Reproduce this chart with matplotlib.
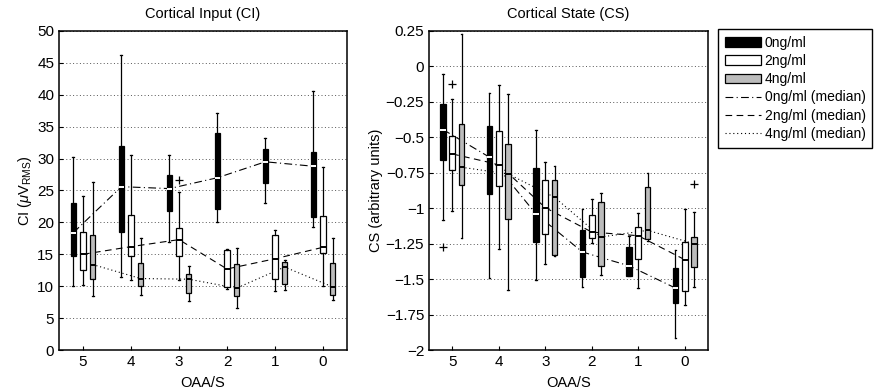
import numpy as np
import matplotlib.pyplot as plt
from matplotlib.patches import Patch
from matplotlib.lines import Line2D
from matplotlib.ticker import FuncFormatter

plt.rcParams['font.family'] = ['Liberation Sans', 'DejaVu Sans']
plt.rcParams['mathtext.fontset'] = 'custom'
plt.rcParams['mathtext.rm'] = 'Liberation Sans'
plt.rcParams['mathtext.it'] = 'Liberation Sans:italic'
plt.rcParams['font.size'] = 10

# OAA/S levels, left to right
levels = ['5', '4', '3', '2', '1', '0']
conc = ['0ng/ml', '2ng/ml', '4ng/ml']

# Cortical Input (CI), per concentration: whisker low, q1, median, q3, whisker high
ci_lo = [[10.0, 11.5, 17.0, 20.0, 23.1, 19.3],
         [10.2, 11.0, 11.0, 9.5, 9.2, 10.0],
         [8.4, 8.6, 7.7, 6.6, 9.4, 7.8]]
ci_q1 = [[14.7, 18.5, 21.8, 22.1, 26.1, 20.9],
         [12.5, 14.7, 14.7, 9.8, 11.1, 15.2],
         [11.1, 10.0, 9.0, 8.4, 10.3, 8.6]]
ci_med = [[18.4, 25.6, 25.3, 27.0, 29.5, 28.8],
          [15.0, 16.2, 17.3, 12.7, 14.3, 16.1],
          [13.4, 11.2, 11.1, 9.7, 13.0, 9.9]]
ci_q3 = [[23.1, 31.9, 27.4, 34.0, 31.5, 31.1],
         [18.5, 21.2, 19.2, 15.6, 18.1, 21.0],
         [18.1, 13.7, 11.9, 13.5, 13.8, 13.7]]
ci_hi = [[30.3, 46.3, 30.5, 37.1, 33.2, 40.6],
         [24.2, 30.5, 24.8, 15.9, 18.8, 28.7],
         [26.3, 17.5, 13.2, 16.0, 14.1, 17.5]]
ci_fliers = [[[], [], [], [], [], []],
             [[], [], [26.6], [], [], []],
             [[], [], [], [], [], []]]

# Cortical State (CS)
cs_lo = [[-1.081, -1.493, -1.505, -1.556, -1.48, -1.917],
         [-1.022, -1.286, -1.392, -1.245, -1.563, -1.681],
         [-1.21, -1.575, -1.34, -1.469, -1.23, -1.559]]
cs_q1 = [[-0.662, -0.897, -1.238, -1.486, -1.477, -1.669],
         [-0.727, -0.845, -1.18, -1.21, -1.356, -1.587],
         [-0.838, -1.076, -1.328, -1.411, -1.217, -1.418]]
cs_med = [[-0.445, -0.640, -1.04, -1.309, -1.406, -1.563],
          [-0.617, -0.692, -0.996, -1.168, -1.194, -1.363],
          [-0.711, -0.758, -0.923, -1.203, -1.156, -1.25]]
cs_q3 = [[-0.263, -0.421, -0.716, -1.151, -1.27, -1.422],
         [-0.492, -0.457, -0.798, -1.045, -1.132, -1.238],
         [-0.409, -0.546, -0.798, -0.956, -0.85, -1.203]]
cs_hi = [[-0.051, -0.185, -0.45, -1.005, -1.194, -1.293],
         [-0.233, -0.134, -0.676, -0.932, -1.034, -1.005],
         [0.227, -0.197, -0.699, -0.892, -0.751, -1.029]]
cs_fliers = [[[-1.27], [], [], [], [], []],
             [[-0.122], [], [], [], [], []],
             [[], [], [], [], [], [-0.826]]]

face = ['black', 'white', '#bcbcbc']
med_col = ['white', 'black', 'black']
med_ls = [(0, (7, 3, 1, 3)), (0, (6, 4)), (0, (1, 2.5))]
offsets = [-0.2, 0.0, 0.2]


def draw_panel(ax, lo, q1, med, q3, hi, fliers):
    base = np.arange(1, len(levels) + 1)
    for k in range(3):
        stats = []
        for i in range(len(levels)):
            stats.append(dict(whislo=lo[k][i], q1=q1[k][i], med=med[k][i],
                              q3=q3[k][i], whishi=hi[k][i], fliers=fliers[k][i]))
        pos = base + offsets[k]
        ax.bxp(stats, positions=pos, widths=0.12, patch_artist=True,
               showfliers=True, manage_ticks=False,
               boxprops=dict(facecolor=face[k], edgecolor='black', linewidth=0.9),
               medianprops=dict(color=med_col[k], linewidth=1.4),
               whiskerprops=dict(color='black', linewidth=0.9, linestyle='-'),
               capprops=dict(color='black', linewidth=0.9),
               capwidths=0.04,
               flierprops=dict(marker='+', markeredgecolor='black',
                               markersize=6, markeredgewidth=0.9))
        ax.plot(pos, med[k], color='black', linewidth=0.8, linestyle=med_ls[k],
                zorder=1)
    ax.set_xlim(0.5, len(levels) + 0.5)
    ax.set_xticks(base)
    ax.set_xticklabels(levels)
    ax.yaxis.grid(True, linestyle=(0, (1, 2.5)), color='#555555', linewidth=0.7)
    ax.set_axisbelow(True)
    ax.tick_params(direction='in', length=3, width=0.8, labelsize=11)
    for s in ax.spines.values():
        s.set_linewidth(1.1)
    ax.set_xlabel('OAA/S', fontsize=10.5, labelpad=5)


fig = plt.figure(figsize=(8.83, 3.91), dpi=100)
ax1 = fig.add_axes([59 / 883, 1 - 350 / 391, 288 / 883, 319 / 391])
ax2 = fig.add_axes([429 / 883, 1 - 350 / 391, 279 / 883, 319 / 391])

draw_panel(ax1, ci_lo, ci_q1, ci_med, ci_q3, ci_hi, ci_fliers)
ax1.set_ylim(0, 50)
ax1.set_yticks(np.arange(0, 51, 5))
ax1.set_title('Cortical Input (CI)', fontsize=10.5, pad=9)
ax1.set_ylabel(r'CI ($\mu$V$_{\mathrm{RMS}}$)', fontsize=10.5, labelpad=2)

draw_panel(ax2, cs_lo, cs_q1, cs_med, cs_q3, cs_hi, cs_fliers)
ax2.set_ylim(-2, 0.25)
ax2.set_yticks(np.arange(-2, 0.26, 0.25))
ax2.yaxis.set_major_formatter(FuncFormatter(lambda v, p: f'{v:g}'.replace('-', '\u2212')))
ax2.set_title('Cortical State (CS)', fontsize=10.5, pad=9)
ax2.set_ylabel('CS (arbitrary units)', fontsize=10.5, labelpad=2)

handles = [Patch(facecolor=face[k], edgecolor='black', linewidth=0.9) for k in range(3)]
handles += [Line2D([], [], color='black', linewidth=0.8, linestyle=med_ls[k]) for k in range(3)]
labels = conc + [c + ' (median)' for c in conc]
fig.legend(handles, labels, loc='upper left', bbox_to_anchor=(718 / 883, 1 - 29 / 391),
           fontsize=10, frameon=True, fancybox=False, edgecolor='black',
           framealpha=1, borderpad=0.5, labelspacing=0.3, handlelength=2.6,
           handletextpad=0.25, borderaxespad=0)

fig.savefig('out.png', dpi=100)
